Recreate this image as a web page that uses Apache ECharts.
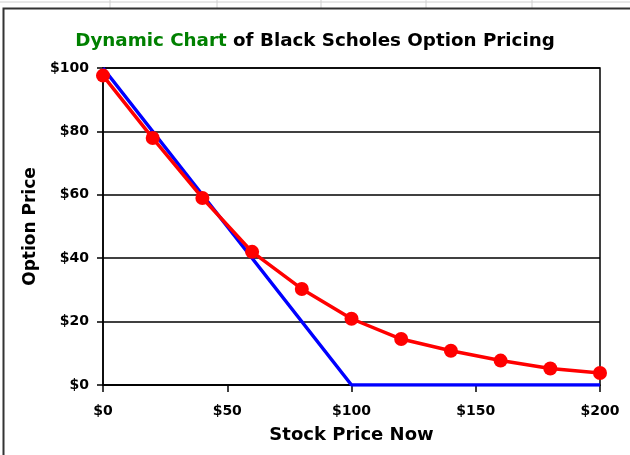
<!DOCTYPE html>
<html>
<head>
<meta charset="utf-8">
<script src="https://cdn.jsdelivr.net/npm/echarts@6/dist/echarts.min.js"></script>
<style>
html,body{margin:0;padding:0;background:#fff;}
#chart{width:630px;height:455px;}
</style>
</head>
<body>
<div id="chart"></div>
<script>
var stockPrices = [0, 20, 40, 60, 80, 100, 120, 140, 160, 180, 200];
var optionPrices = [97.6, 77.9, 59, 42, 30.3, 20.9, 14.5, 10.8, 7.7, 5.2, 3.8];
var intrinsicX = [0, 100, 200];
var intrinsicY = [100, 0, 0];
var titleGreen = 'Dynamic Chart';
var titleBlack = ' of Black Scholes Option Pricing';
var xAxisName = 'Stock Price Now';
var yAxisName = 'Option Price';

var chart = echarts.init(document.getElementById('chart'));
var font = 'DejaVu Sans';
chart.setOption({
  animation: false,
  backgroundColor: '#fff',
  title: {
    text: '{g|' + titleGreen + '}{b|' + titleBlack + '}',
    left: 'center',
    top: 27,
    textStyle: {
      rich: {
        g: {color: '#008000', fontFamily: font, fontWeight: 'bold', fontSize: 18.3},
        b: {color: '#000', fontFamily: font, fontWeight: 'bold', fontSize: 18.3}
      }
    }
  },
  graphic: [
    {type: 'line', shape: {x1: 0, y1: 2, x2: 630, y2: 2}, style: {stroke: '#d0d0d0', lineWidth: 1}},
    {type: 'line', shape: {x1: 110, y1: 0, x2: 110, y2: 8}, style: {stroke: '#d0d0d0', lineWidth: 1}},
    {type: 'line', shape: {x1: 217, y1: 0, x2: 217, y2: 8}, style: {stroke: '#d0d0d0', lineWidth: 1}},
    {type: 'line', shape: {x1: 321, y1: 0, x2: 321, y2: 8}, style: {stroke: '#d0d0d0', lineWidth: 1}},
    {type: 'line', shape: {x1: 426, y1: 0, x2: 426, y2: 8}, style: {stroke: '#d0d0d0', lineWidth: 1}},
    {type: 'line', shape: {x1: 532, y1: 0, x2: 532, y2: 8}, style: {stroke: '#d0d0d0', lineWidth: 1}},
    {type: 'polyline', shape: {points: [[630, 8.5], [3.5, 8.5], [3.5, 455]]}, style: {stroke: '#333', fill: null, lineWidth: 2}}
  ],
  grid: {left: 103, right: 30, top: 68, bottom: 70, show: true, borderColor: '#000', borderWidth: 1.5},
  xAxis: {
    type: 'value', min: 0, max: 200, interval: 50,
    name: xAxisName, nameLocation: 'middle', nameGap: 41,
    nameTextStyle: {fontFamily: font, fontWeight: 'bold', fontSize: 18, color: '#000'},
    axisLine: {show: true, lineStyle: {color: '#000', width: 1.5}},
    axisTick: {show: true, length: 7, lineStyle: {color: '#000', width: 1.5}},
    axisLabel: {formatter: '${value}', fontFamily: font, fontWeight: 'bold', fontSize: 14, color: '#000', margin: 19},
    splitLine: {show: false}
  },
  yAxis: {
    type: 'value', min: 0, max: 100, interval: 20,
    name: yAxisName, nameLocation: 'middle', nameGap: 62,
    nameTextStyle: {fontFamily: font, fontWeight: 'bold', fontSize: 17, color: '#000'},
    axisLine: {show: true, lineStyle: {color: '#000', width: 1.5}},
    axisTick: {show: true, length: 6, lineStyle: {color: '#000', width: 1.5}},
    axisLabel: {formatter: '${value}', fontFamily: font, fontWeight: 'bold', fontSize: 14, color: '#000', margin: 14},
    splitLine: {show: true, lineStyle: {color: '#000', width: 1.5}}
  },
  series: [
    {
      type: 'line',
      data: intrinsicX.map(function (x, i) { return [x, intrinsicY[i]]; }),
      showSymbol: false, symbol: 'none',
      lineStyle: {color: '#0000ff', width: 3.5},
      z: 2
    },
    {
      type: 'line',
      data: stockPrices.map(function (x, i) { return [x, optionPrices[i]]; }),
      symbol: 'circle', symbolSize: 14,
      itemStyle: {color: '#ff0000'},
      lineStyle: {color: '#ff0000', width: 3.5},
      z: 3
    }
  ]
});
</script>
</body>
</html>
